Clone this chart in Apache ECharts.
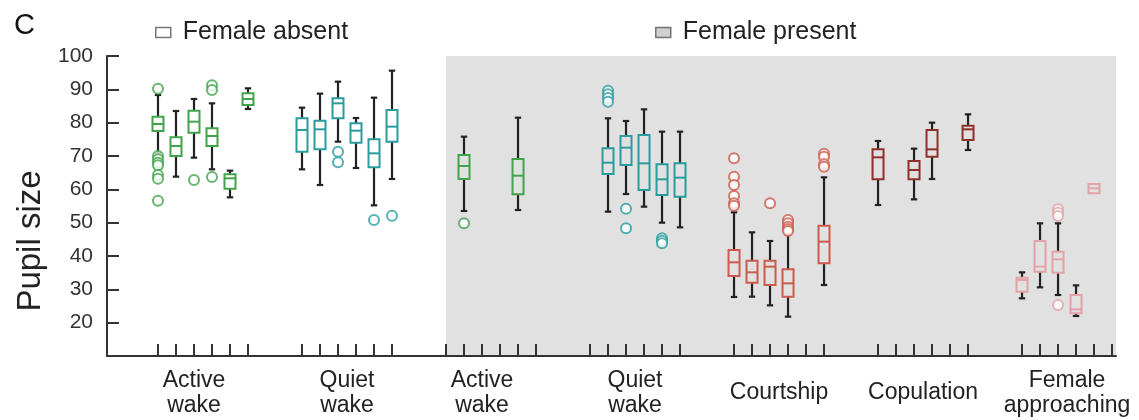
<!DOCTYPE html>
<html>
<head>
<meta charset="utf-8">
<script src="https://cdn.jsdelivr.net/npm/echarts@6/dist/echarts.min.js"></script>
<style>
html,body{margin:0;padding:0;background:#fff;}
#chart{width:1139px;height:420px;}
</style>
</head>
<body>
<div id="chart"></div>
<script>
// Group labels and their positions on the slot axis
const groupLabels = ['Active\nwake','Quiet\nwake','Active\nwake','Quiet\nwake','Courtship','Copulation','Female\napproaching'];
const groupLabelPos = [2, 10.5, 18, 26.5, 34.5, 42.5, 50.5];
// Tick marks (one per slot)
const slotTicks = [0,1,2,3,4,5, 8,9,10,11,12,13, 16,17,18,19,20,21, 24,25,26,27,28,29,
                   32,33,34,35,36,37, 40,41,42,43,44,45, 48,49,50,51,52,53];
const yTickValues = [20,30,40,50,60,70,80,90,100];

// Boxes: [slot, whiskerLow, q1, median, q3, whiskerHigh]
const greenBoxes = [
  [0, 70.9, 77.5, 79.6, 81.8, 88.3],
  [1, 63.8, 70.0, 73.0, 75.6, 83.5],
  [2, 69.5, 77.0, 80.3, 83.6, 87.1],
  [3, 66.0, 73.0, 76.0, 78.3, 85.8],
  [4, 57.6, 60.2, 63.3, 64.5, 65.6],
  [5, 84.1, 85.3, 87.1, 88.8, 90.3],
  [17, 53.5, 63.1, 67.0, 70.3, 75.8],
  [20, 53.8, 58.5, 64.1, 69.1, 81.5]
];
const greenOutliers = [
  [0, 90.2],[0, 70.0],[0, 69.0],[0, 68.0],[0, 67.2],[0, 64.3],[0, 63.2],[0, 56.6],
  [2, 62.8],[3, 91.2],[3, 89.8],[3, 63.7],[17, 49.8]
];
const tealBoxes = [
  [8, 66.0, 71.3, 77.8, 81.3, 84.5],
  [9, 61.3, 72.0, 78.0, 80.6, 88.7],
  [10, 74.3, 81.3, 85.8, 87.3, 92.3],
  [11, 66.4, 74.0, 77.6, 79.8, 81.4],
  [12, 55.2, 66.6, 70.8, 75.0, 87.5],
  [13, 63.1, 74.3, 78.8, 83.8, 95.6],
  [25, 53.3, 64.6, 68.0, 72.3, 81.3],
  [26, 58.6, 67.3, 72.5, 76.0, 80.5],
  [27, 54.8, 59.8, 67.8, 76.3, 84.0],
  [28, 50.0, 58.3, 63.0, 67.5, 77.3],
  [29, 48.6, 57.8, 63.5, 67.8, 77.3]
];
const tealOutliers = [
  [10, 71.3],[10, 68.1],[12, 50.8],[13, 52.1],
  [25, 89.6],[25, 88.5],[25, 87.4],[25, 86.3],[26, 54.2],[26, 48.3],
  [28, 45.3],[28, 44.6],[28, 43.8]
];
const courtshipBoxes = [
  [32, 27.7, 34.0, 38.1, 41.8, 53.1],
  [33, 27.8, 32.0, 35.1, 38.6, 47.1],
  [34, 25.2, 31.3, 36.8, 38.6, 44.5],
  [35, 21.8, 27.8, 31.8, 36.0, 46.6],
  [37, 31.3, 37.8, 44.3, 49.1, 63.6]
];
const courtshipOutliers = [
  [32, 69.3],[32, 63.8],[32, 61.3],[32, 58.0],[32, 55.8],[32, 55.1],
  [34, 55.8],[35, 50.8],[35, 49.8],[35, 48.8],[35, 48.1],[35, 47.5],
  [37, 70.7],[37, 69.8],[37, 67.5],[37, 66.8]
];
const copulationBoxes = [
  [40, 55.3, 63.0, 69.6, 72.0, 74.5],
  [42, 57.0, 63.0, 65.8, 68.5, 72.2],
  [43, 63.1, 69.8, 72.0, 77.8, 80.0],
  [45, 71.8, 74.8, 78.0, 79.1, 82.5]
];
const approachBoxes = [
  [48, 27.3, 29.3, 32.8, 33.5, 35.1],
  [49, 30.6, 35.3, 36.8, 44.5, 49.8],
  [50, 28.3, 35.0, 39.0, 41.3, 49.8],
  [51, 22.0, 22.8, 24.0, 28.3, 31.2],
  [52, 58.8, 58.8, 60.3, 61.6, 61.6]
];
const approachOutliers = [[50, 54.0],[50, 53.0],[50, 52.0],[50, 25.3]];

const X_MIN = -2.833, X_MAX = 53.22, Y_MIN = 10, Y_MAX = 100;
const presentStart = 16;

function renderBox(params, api) {
  const x = api.value(0);
  const pLo = api.coord([x, api.value(1)]);
  const pQ1 = api.coord([x, api.value(2)]);
  const pMed = api.coord([x, api.value(3)]);
  const pQ3 = api.coord([x, api.value(4)]);
  const pHi = api.coord([x, api.value(5)]);
  const cx = pMed[0];
  const half = 5.5, cap = 3.2;
  const color = api.visual('color');
  const w = {stroke: '#222', lineWidth: 2.2};
  const kids = [];
  if (pHi[1] < pQ3[1] - 0.5) {
    kids.push({type: 'line', shape: {x1: cx, y1: pQ3[1], x2: cx, y2: pHi[1]}, style: w});
    kids.push({type: 'line', shape: {x1: cx - cap, y1: pHi[1], x2: cx + cap, y2: pHi[1]}, style: w});
  }
  if (pLo[1] > pQ1[1] + 0.5) {
    kids.push({type: 'line', shape: {x1: cx, y1: pQ1[1], x2: cx, y2: pLo[1]}, style: w});
    kids.push({type: 'line', shape: {x1: cx - cap, y1: pLo[1], x2: cx + cap, y2: pLo[1]}, style: w});
  }
  kids.push({type: 'rect', shape: {x: cx - half, y: pQ3[1], width: half * 2, height: pQ1[1] - pQ3[1]},
             style: {fill: 'rgba(0,0,0,0)', stroke: color, lineWidth: 2}});
  kids.push({type: 'line', shape: {x1: cx - half, y1: pMed[1], x2: cx + half, y2: pMed[1]},
             style: {stroke: color, lineWidth: 2}});
  return {type: 'group', children: kids};
}

function boxSeries(data, color) {
  return {type: 'custom', renderItem: renderBox, data: data, itemStyle: {color: color},
          encode: {x: 0, y: [1, 2, 3, 4, 5]}, z: 3, silent: true};
}
function outlierSeries(data, color) {
  return {type: 'scatter', data: data, symbol: 'emptyCircle', symbolSize: 10,
          itemStyle: {color: color, borderColor: color, borderWidth: 1.8}, z: 4, silent: true};
}

const colGreen = '#41a34c', colTeal = '#2b9c9e', colCourt = '#cc5b4d', colCop = '#8f302a', colAppr = '#e2a3a6';

const chart = echarts.init(document.getElementById('chart'), null, {renderer: 'canvas'});
chart.setOption({
  animation: false,
  backgroundColor: '#fff',
  title: {text: 'C', left: 9, top: 6, textStyle: {fontFamily: 'Liberation Sans', fontSize: 29, fontWeight: 'normal', color: '#111'}},
  legend: [
    {left: 150, top: 15, itemWidth: 15, itemHeight: 10, selectedMode: false,
     textStyle: {fontFamily: 'Liberation Sans', fontSize: 25, color: '#222', padding: [0, 0, 0, 7]},
     data: [{name: 'Female absent', icon: 'rect', itemStyle: {color: '#fff', borderColor: '#555', borderWidth: 1.5}}]},
    {left: 650, top: 15, itemWidth: 15, itemHeight: 10, selectedMode: false,
     textStyle: {fontFamily: 'Liberation Sans', fontSize: 25, color: '#222', padding: [0, 0, 0, 7]},
     data: [{name: 'Female present', icon: 'rect', itemStyle: {color: '#c4c4c4', borderColor: '#555', borderWidth: 1.5}}]}
  ],
  grid: {left: 107, right: 23, top: 56, bottom: 64},
  xAxis: {
    type: 'value', min: X_MIN, max: X_MAX,
    splitLine: {show: false},
    axisLine: {onZero: false, lineStyle: {color: '#333', width: 2}},
    axisTick: {show: true, inside: true, length: 12, customValues: slotTicks, lineStyle: {color: '#333', width: 2}},
    axisLabel: {
      customValues: groupLabelPos,
      formatter: function (v) {
        for (let i = 0; i < groupLabelPos.length; i++) if (Math.abs(groupLabelPos[i] - v) < 0.01) return groupLabels[i];
        return '';
      },
      margin: 37, verticalAlign: 'middle', lineHeight: 25,
      fontFamily: 'Liberation Sans', fontSize: 23, color: '#222'
    }
  },
  yAxis: {
    type: 'value', min: Y_MIN, max: Y_MAX,
    name: 'Pupil size', nameLocation: 'middle', nameGap: 60,
    nameTextStyle: {fontFamily: 'Liberation Sans', fontSize: 33, color: '#222', padding: [0, 70, 0, 0]},
    splitLine: {show: false},
    axisLine: {show: true, onZero: false, lineStyle: {color: '#333', width: 2}},
    axisTick: {show: true, inside: true, length: 12, customValues: yTickValues, lineStyle: {color: '#333', width: 2}},
    axisLabel: {customValues: yTickValues, margin: 14, fontFamily: 'Liberation Sans', fontSize: 21, color: '#333'}
  },
  series: [
    {name: 'Female absent', type: 'scatter', data: [], z: 0, silent: true},
    {name: 'Female present', type: 'scatter', data: [], z: 0, silent: true,
     markArea: {silent: true, itemStyle: {color: '#e1e1e1'}, z: 0,
       data: [[{xAxis: presentStart, yAxis: Y_MIN}, {xAxis: X_MAX, yAxis: Y_MAX}]]}},
    boxSeries(greenBoxes, colGreen),
    boxSeries(tealBoxes, colTeal),
    boxSeries(courtshipBoxes, colCourt),
    boxSeries(copulationBoxes, colCop),
    boxSeries(approachBoxes, colAppr),
    outlierSeries(greenOutliers, colGreen),
    outlierSeries(tealOutliers, colTeal),
    outlierSeries(courtshipOutliers, colCourt),
    outlierSeries(approachOutliers, colAppr)
  ]
});
</script>
</body>
</html>
